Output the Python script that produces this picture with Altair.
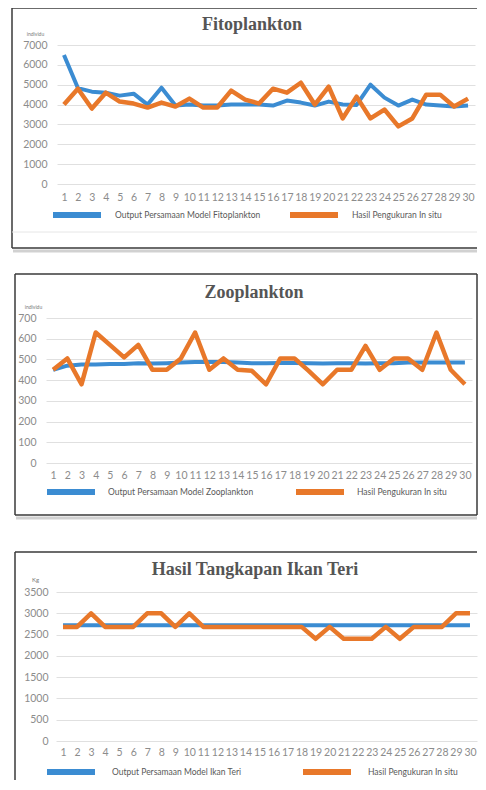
import altair as alt
import pandas as pd

days = list(range(1, 31))

fito_model = [6500, 4830, 4650, 4600, 4450, 4550, 4000, 4850, 3950, 4000,
              3950, 3950, 4000, 4000, 4000, 3950, 4200, 4100, 3950, 4150,
              4000, 3980, 5000, 4350, 3950, 4250, 4000, 3950, 3900, 3950]
fito_insitu = [4000, 4800, 3800, 4600, 4150, 4050, 3850, 4100, 3900, 4300,
               3850, 3850, 4700, 4250, 4050, 4800, 4600, 5100, 4000, 4900,
               3300, 4400, 3300, 3750, 2900, 3300, 4500, 4500, 3900, 4300]

zoo_model = [450, 470, 475, 475, 478, 478, 482, 480, 482, 485,
             487, 487, 487, 485, 482, 482, 483, 483, 482, 480,
             482, 482, 480, 482, 482, 485, 485, 485, 485, 485]
zoo_insitu = [450, 505, 380, 630, 570, 510, 570, 450, 450, 505,
              630, 450, 505, 450, 445, 380, 505, 505, 445, 380,
              450, 450, 565, 450, 505, 505, 450, 630, 450, 380]

teri_model = [2720] * 30
teri_insitu = [2680, 2680, 3000, 2680, 2680, 2680, 3000, 3000, 2680, 3000,
               2680, 2680, 2680, 2680, 2680, 2680, 2680, 2680, 2400, 2680,
               2400, 2400, 2400, 2680, 2400, 2680, 2680, 2680, 3000, 3000]

INSITU = "Hasil Pengukuran In situ"
BLUE = "#3b8cd2"
ORANGE = "#e8782a"
FRAME = "#3a3a3a"
FONT = "Lato"
ONE = alt.Data(values=[{}])

# view origin on the page
OX, OY = 12, 10
W, H = 466, 770
RX = OX + W - 1  # right edge of frames


def vx(px):
    return px - OX


def vy(py):
    return py - OY


def rule(x1, x2, y1, y2, color=FRAME, width=1.5, opacity=1.0):
    return alt.Chart(ONE).mark_rule(color=color, strokeWidth=width, opacity=opacity).encode(
        x=alt.value(vx(x1)), x2=alt.value(vx(x2)), y=alt.value(vy(y1)), y2=alt.value(vy(y2)))


def text(t, px, py, size=18):
    return alt.Chart(ONE).mark_text(font="Liberation Serif", fontWeight="bold",
                                    fontSize=size, color="#555555", align="center",
                                    baseline="middle").encode(
        x=alt.value(vx(px)), y=alt.value(vy(py)), text=alt.value(t))


def panel(model_name, unit, model, insitu, ymax, ystep, g):
    df = pd.DataFrame({
        "day": days * 2,
        "value": model + insitu,
        "series": [model_name] * 30 + [INSITU] * 30,
    })
    x0, x1 = g["px"]
    yb, yt = g["py"]
    ux, uy = g["unit"]
    lx, ly = g["legend"]
    base = alt.Chart(df).encode(
        x=alt.X("day:O", scale=alt.Scale(type="point", padding=0.5, range=[vx(x0), vx(x1)]),
                axis=alt.Axis(title=None, orient="bottom", labelAngle=0, labelOverlap=False,
                              labelFlush=False, grid=False, ticks=False, domain=False,
                              offset=vy(g["xlab"]) - H, labelPadding=0, labelBaseline="top",
                              labelFont=FONT, labelFontSize=10.5, labelColor="#8c8c8c")),
        y=alt.Y("value:Q", scale=alt.Scale(domain=[0, ymax], nice=False, zero=True,
                                           range=[vy(yb), vy(yt)]),
                axis=alt.Axis(orient="left", values=list(range(0, ymax + 1, ystep)), format="d",
                              offset=-vx(x0), title=unit, titleAngle=0,
                              titleX=ux - x0, titleY=vy(uy), titleAlign="center",
                              titleBaseline="middle", titleFont=FONT, titleFontSize=g["ufs"],
                              titleFontWeight="normal", titleColor="#7a7a7a",
                              grid=True, gridColor="#e0e0e0", gridWidth=1,
                              ticks=False, domain=False, labelPadding=g["ypad"],
                              labelFont=FONT, labelFontSize=10.5, labelColor="#8c8c8c")),
        color=alt.Color("series:N",
                        scale=alt.Scale(domain=[model_name, INSITU], range=[BLUE, ORANGE]),
                        legend=alt.Legend(orient="none", legendX=vx(lx), legendY=vy(ly),
                                          direction="horizontal", columns=2, title=None,
                                          symbolType="M-1,0L15,0", symbolSize=36,
                                          symbolStrokeWidth=6, symbolOffset=0,
                                          labelFont=FONT, labelFontSize=8.5, labelColor="#595959",
                                          labelOffset=g["lo"], columnPadding=g["cp"],
                                          padding=0, labelLimit=400)),
    )
    blue = base.transform_filter(alt.datum.series == model_name).mark_line(
        strokeWidth=4, strokeJoin="round")
    orange = base.transform_filter(alt.datum.series == INSITU).mark_line(
        strokeWidth=4.5, strokeJoin="round")
    return alt.layer(blue, orange)


p1 = panel("Output Persamaan Model Fitoplankton", "individu", fito_model, fito_insitu, 7000, 1000,
           dict(px=(57, 475), py=(184, 45), xlab=192, ypad=10, unit=(35, 33), ufs=5,
                legend=(50, 209), lo=53, cp=17))
p2 = panel("Output Persamaan Model Zooplankton", "individu", zoo_model, zoo_insitu, 700, 100,
           dict(px=(46, 472), py=(463, 318), xlab=470, ypad=10, unit=(33, 306), ufs=5,
                legend=(44, 486), lo=52, cp=30))
p3 = panel("Output Persamaan Model Ikan Teri", "Kg", teri_model, teri_insitu, 3500, 500,
           dict(px=(56, 477), py=(741, 592), xlab=747, ypad=8, unit=(35, 579), ufs=6,
                legend=(44, 766), lo=56, cp=49))

decor = [
    # panel 1 frame
    rule(13, RX, 251, 251, color="#9a9a9a", width=3, opacity=0.45),
    rule(12, RX, 8, 8), rule(12, 12, 8, 248), rule(12, RX, 248, 248),
    rule(12, RX, 232, 232, color="#e6e6e6", width=1),
    # panel 2 frame
    rule(16, RX, 518, 518, color="#9a9a9a", width=3, opacity=0.45),
    rule(15, RX, 274, 274), rule(15, 15, 274, 515), rule(15, RX, 515, 515),
    rule(RX, RX, 274, 515),
    # panel 3 frame
    rule(15, RX, 552, 552), rule(15, 15, 552, OY + H),
    # titles
    text("Fitoplankton", 252, 25),
    text("Zooplankton", 254, 293),
    text("Hasil Tangkapan Ikan Teri", 255, 570),
]

chart = alt.layer(p1, p2, p3, *decor).resolve_scale(
    x="independent", y="independent", color="independent"
).resolve_axis(x="independent", y="independent").resolve_legend(color="independent").properties(
    width=W, height=H, autosize=alt.AutoSizeParams(type="none"),
    padding={"left": OX - 8, "top": OY - 8, "right": 0, "bottom": 0}
).configure_view(stroke=None)

chart.save("out.html", embed_options={"renderer": "svg", "actions": False})
